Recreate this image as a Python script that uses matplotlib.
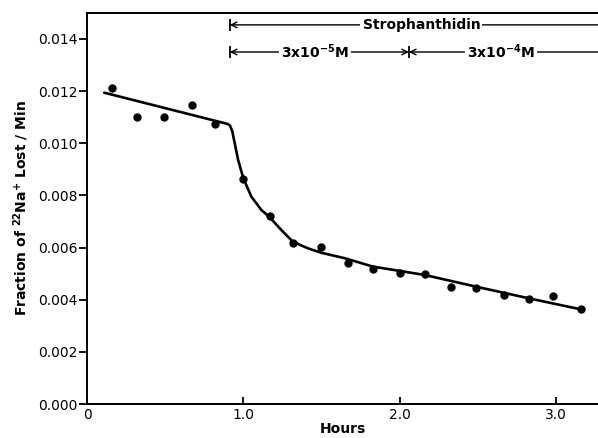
# 22Na efflux rate vs time with strophanthidin added
import numpy as np
import matplotlib.pyplot as plt
from matplotlib import rcParams

rcParams.update({
    "font.family": ['DejaVu Sans'],
    "font.size": 10,
    "mathtext.default": 'regular',
})

# measured points (hours, fraction lost per min)
hours = [0.16, 0.32, 0.49, 0.67, 0.82, 1.0, 1.17, 1.32, 1.50, 1.67,
         1.83, 2.00, 2.16, 2.33, 2.49, 2.67, 2.83, 2.98, 3.16]
rate = [0.01211, 0.01101, 0.01102, 0.01148, 0.01073, 0.00864, 0.00721,
        0.00616, 0.00603, 0.00540, 0.00518, 0.00504, 0.00499, 0.00450,
        0.00444, 0.00417, 0.00404, 0.00414, 0.00363]

# hand drawn fit line
fit_x = [0.11, 0.90, 0.915, 0.93, 0.967, 1.0, 1.052, 1.116, 1.169,
         1.244, 1.318, 1.414, 1.50, 1.65, 1.83, 2.16, 2.49, 2.83, 3.16]
fit_y = [0.01194, 0.01074, 0.01068, 0.01045, 0.00936, 0.00866, 0.00795,
         0.00744, 0.00716, 0.00667, 0.00622, 0.00597, 0.00580, 0.00559,
         0.00527, 0.00495, 0.00450, 0.00405, 0.00363]

xticks = [0, 1.0, 2.0, 3.0]
xtick_labels = ['0', '1.0', '2.0', '3.0']
yticks = [0.000, 0.002, 0.004, 0.006, 0.008, 0.010, 0.012, 0.014]

fig = plt.figure(figsize=(5.98, 4.38), dpi=100)
ax = fig.add_axes([0.1455, 0.0776, 0.8545, 0.893])

ax.plot(fit_x, fit_y, color='black', lw=1.9, solid_capstyle='round',
        solid_joinstyle='round')
ax.plot(hours, rate, 'o', color='black', ms=5)

ax.set_xlim(0, 3.27)
ax.set_ylim(0, 0.015)
ax.set_xticks(xticks)
ax.set_xticklabels(xtick_labels)
ax.set_yticks(yticks)
ax.set_yticklabels(['%.3f' % v for v in yticks])
ax.tick_params(axis='y', direction='out', length=6, width=1.3, pad=1)
ax.tick_params(axis='x', direction='in', length=5, width=1.3, pad=3)
ax.spines['right'].set_visible(False)
for s in ['left', 'bottom', 'top']:
    ax.spines[s].set_linewidth(1.4)

ax.set_xlabel('Hours', fontsize=10, fontweight='bold', labelpad=0)
ax.set_ylabel('Fraction of $^{22}$Na$^{+}$ Lost / Min', fontsize=10,
              fontweight='bold', labelpad=5)

# strophanthidin bars
start = 0.914
switch = 2.06
y1, y2 = 0.01454, 0.01350
arr = dict(arrowstyle='->', color='black', lw=1.0, shrinkA=0, shrinkB=0,
           mutation_scale=10)
ax.annotate('', xy=(start, y1), xytext=(3.27, y1), arrowprops=arr,
            annotation_clip=False)
ax.annotate('', xy=(start, y2), xytext=(switch, y2),
            arrowprops=dict(arr, arrowstyle='<->'))
ax.annotate('', xy=(switch, y2), xytext=(3.27, y2), arrowprops=arr,
            annotation_clip=False)
ax.plot([start, start, switch], [y1, y2, y2], '|', color='black', ms=8,
        mew=1.3)

box = dict(boxstyle='square,pad=0.15', fc='white', ec='none')
ax.text(2.14, y1, 'Strophanthidin', ha='center', va='center', fontsize=10,
        fontweight='bold', bbox=box)
ax.text(1.46, y2, '3x10$^{-5}$M', ha='center', va='center', fontsize=10,
        fontweight='bold', bbox=box)
ax.text(2.65, y2, '3x10$^{-4}$M', ha='center', va='center', fontsize=10,
        fontweight='bold', bbox=box)

plt.savefig('out.png', dpi=100)
